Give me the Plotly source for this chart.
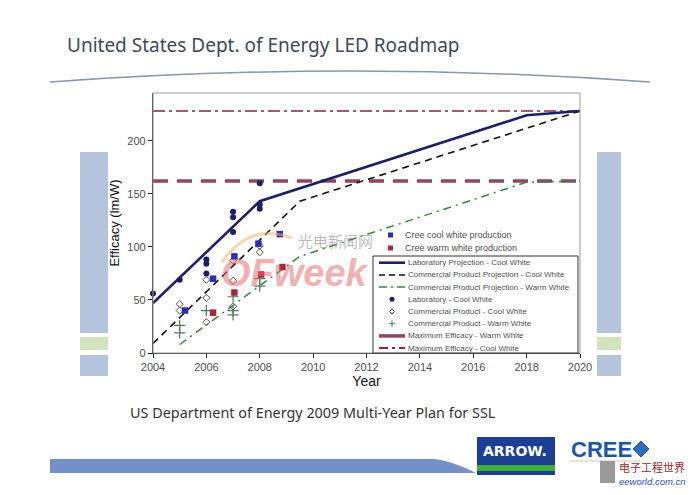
import plotly.graph_objects as go

# ---- data (lm/W) ----
max_years = [2004, 2020]
max_warm_vals = [162, 162]
max_cool_vals = [228, 228]

lab_proj_years = [2004, 2008, 2018, 2020]
lab_proj_vals = [47, 143, 224, 228]

comm_cool_proj_years = [2004, 2009.5, 2020]
comm_cool_proj_vals = [9, 143, 228]

comm_warm_proj_years = [2005, 2009.5, 2018, 2020]
comm_warm_proj_vals = [8, 91, 161, 162]

lab_cool_years = [2004, 2005, 2006, 2006, 2006, 2007, 2007, 2007, 2008, 2008, 2008]
lab_cool_vals = [56, 69, 88, 84, 75, 133, 128, 114, 160, 140, 136]

comm_cool_years = [2005, 2005, 2006, 2006, 2006, 2007, 2007, 2007, 2008, 2008]
comm_cool_vals = [46, 40, 69, 52, 29, 87, 68, 44, 101, 95]

comm_warm_years = [2005, 2005, 2006, 2007, 2007, 2007, 2008, 2008]
comm_warm_vals = [26, 19, 40, 53, 40, 36, 70, 63]

cree_cool_years = [2005.2, 2006.25, 2007.05, 2007.95, 2008.75]
cree_cool_vals = [40, 70, 91, 103, 112]

cree_warm_years = [2006.25, 2007.05, 2008.05, 2008.85]
cree_warm_vals = [38, 57, 74, 81]

x_ticks = list(range(2004, 2021, 2))
y_ticks = [0, 50, 100, 150, 200]

# ---- page geometry (pixels of the 698x495 page) ----
OFF = 8                      # default body margin of the html page
W, H = 698 - 2 * OFF, 495 - 2 * OFF
PL, PT = 153, 93             # plot area top-left on the page
PW, PH = 427, 260            # plot area size
L, T = PL - OFF, PT - OFF
R, B = W - L - PW, H - T - PH


def px(x):
    return (x - PL) / PW


def py(y):
    return (PT + PH - y) / PH


NAVY = "#1c1f66"
MAROON = "#8e4560"
DKRED = "#8a2436"
GREEN = "#2f8a3a"
TXT = "#505050"
FONT = "Liberation Sans, Arial, sans-serif"

fig = go.Figure()

# horizontal limits
fig.add_trace(go.Scatter(x=max_years, y=max_cool_vals, mode="lines",
                         line=dict(color=DKRED, width=1.4, dash="12px,4px,3px,4px")))
fig.add_trace(go.Scatter(x=max_years, y=max_warm_vals, mode="lines",
                         line=dict(color=MAROON, width=3.5, dash="15px,9px")))
# projections
fig.add_trace(go.Scatter(x=comm_warm_proj_years, y=comm_warm_proj_vals, mode="lines",
                         line=dict(color=GREEN, width=1.5, dash="8px,5px,2px,5px")))
fig.add_trace(go.Scatter(x=comm_cool_proj_years, y=comm_cool_proj_vals, mode="lines",
                         line=dict(color="#111111", width=1.6, dash="7px,5px")))
fig.add_trace(go.Scatter(x=lab_proj_years, y=lab_proj_vals, mode="lines",
                         line=dict(color=NAVY, width=2.6)))
# measured points
fig.add_trace(go.Scatter(x=comm_warm_years, y=comm_warm_vals, mode="markers",
                         marker=dict(symbol="cross-thin", size=8, color="#4f7a58",
                                     line=dict(color="#4f7a58", width=1.2))))
fig.add_trace(go.Scatter(x=comm_cool_years, y=comm_cool_vals, mode="markers",
                         marker=dict(symbol="diamond-open", size=5.5, color="#555555",
                                     line=dict(width=1))))
fig.add_trace(go.Scatter(x=lab_cool_years, y=lab_cool_vals, mode="markers",
                         marker=dict(symbol="circle", size=6, color=NAVY)))
fig.add_trace(go.Scatter(x=cree_cool_years, y=cree_cool_vals, mode="markers",
                         marker=dict(symbol="square", size=6.5, color="#2b2fa8")))
fig.add_trace(go.Scatter(x=cree_warm_years, y=cree_warm_vals, mode="markers",
                         marker=dict(symbol="square", size=6.5, color="#a3263a")))
fig.update_traces(cliponaxis=False, showlegend=False)

shapes = []
annos = []

# side panels behind the slide
for x0, x1 in [(80, 108), (597, 621)]:
    shapes += [
        dict(type="rect", x0=px(x0), x1=px(x1), y0=py(333), y1=py(152),
             fillcolor="#b5c4dd", line_width=0, layer="below"),
        dict(type="rect", x0=px(x0), x1=px(x1), y0=py(350), y1=py(337),
             fillcolor="#d3e3bd", line_width=0, layer="below"),
        dict(type="rect", x0=px(x0), x1=px(x1), y0=py(376), y1=py(355),
             fillcolor="#b5c4dd", line_width=0, layer="below"),
    ]

# header arc
shapes.append(dict(type="path",
                   path=f"M {px(50)} {py(82)} Q {px(350)} {py(60)} {px(650)} {py(82)}",
                   line=dict(color="#8797ad", width=1.5)))
# frame top/right in light grey
shapes.append(dict(type="rect", x0=0, x1=1, y0=0, y1=1,
                   line=dict(color="#9a9a9a", width=1)))

# bottom bar
shapes.append(dict(type="path",
                   path=(f"M {px(50)} {py(459)} L {px(433)} {py(459)} "
                         f"Q {px(450)} {py(460)} {px(476)} {py(473)} L {px(50)} {py(473)} Z"),
                   fillcolor="#7390c8", line_width=0))
# Arrow logo
shapes.append(dict(type="rect", x0=px(477), x1=px(555), y0=py(475), y1=py(437),
                   fillcolor="#1d3f93", line_width=0))
shapes.append(dict(type="rect", x0=px(477), x1=px(555), y0=py(471), y1=py(465),
                   fillcolor="#3fae3a", line_width=0))
annos.append(dict(x=px(515), y=py(451), text="<b>ARROW.</b>",
                  font=dict(family="DejaVu Sans", size=14, color="white")))
# Cree logo
annos.append(dict(x=px(569), y=py(449), xanchor="left", text="<b>CREE</b>",
                  font=dict(family="Liberation Sans", size=22, color="#1c56a8")))
shapes.append(dict(type="path",
                   path=(f"M {px(633)} {py(449)} L {px(641)} {py(441)} L {px(649)} {py(449)} "
                         f"L {px(641)} {py(457)} Z"),
                   fillcolor="#2f6cb8", line=dict(color="#1c56a8", width=1)))
shapes.append(dict(type="line", x0=px(570), x1=px(640), y0=py(461), y1=py(461),
                   line=dict(color="#c8c8c8", width=1)))
# eeworld mark
shapes.append(dict(type="rect", x0=px(600), x1=px(615), y0=py(483), y1=py(461),
                   fillcolor="#9a9a9a", line_width=0))
annos.append(dict(x=px(617), y=py(467), xanchor="left", text="电子工程世界",
                  font=dict(family="Noto Sans CJK SC", size=11, color="#9b2b2b")))
annos.append(dict(x=px(617), y=py(481), xanchor="left", text="<i>eeworld.com.cn</i>",
                  font=dict(family=FONT, size=9.5, color="#2b55a8")))

# watermark
shapes.append(dict(type="path",
                   path=f"M {px(222)} {py(262)} Q {px(250)} {py(222)} {px(292)} {py(238)}",
                   line=dict(color="rgba(240,180,110,0.55)", width=3)))
annos.append(dict(x=px(295), y=py(273), text="<b><i>OFweek</i></b>",
                  font=dict(family="Liberation Sans", size=38, color="rgba(232,110,110,0.55)")))
annos.append(dict(x=px(335), y=py(240), text="光电新闻网",
                  font=dict(family="Noto Sans CJK SC", size=15, color="rgba(140,140,140,0.6)")))

# titles
annos.append(dict(x=px(65), y=py(45), xanchor="left",
                  text="United States Dept. of Energy LED Roadmap",
                  font=dict(family="Noto Sans", size=19, color="#3c4a5c")))
annos.append(dict(x=px(128), y=py(412), xanchor="left",
                  text="US Department of Energy 2009 Multi-Year Plan for SSL",
                  font=dict(family="Noto Sans", size=14.4, color="#333333")))

# ---- legend drawn by hand (plotly rows are too tall for this box) ----
shapes.append(dict(type="rect", x0=px(373), x1=px(578), y0=py(353), y1=py(256),
                   fillcolor="white", line=dict(color="#333333", width=1)))

upper = [("Cree cool white production", "#2b2fa8"),
         ("Cree warm white production", "#a3263a")]
for i, (label, col) in enumerate(upper):
    yc = 235 + i * 13
    shapes.append(dict(type="rect", x0=px(388), x1=px(393), y0=py(yc + 2.5), y1=py(yc - 2.5),
                       fillcolor=col, line_width=0))
    annos.append(dict(x=px(403), y=py(yc), xanchor="left", text=label,
                      font=dict(family=FONT, size=9, color=TXT)))

rows = [
    ("Laboratory Projection - Cool White", "line", dict(color=NAVY, width=2.6)),
    ("Commercial Product Projection - Cool White", "line",
     dict(color="#111111", width=1.5, dash="6px,4px")),
    ("Commercial Product Projection - Warm White", "line",
     dict(color=GREEN, width=1.5, dash="8px,4px,2px,4px")),
    ("Laboratory - Cool White", "dot", NAVY),
    ("Commercial Product - Cool White", "diamond", "#555555"),
    ("Commercial Product - Warm White", "plus", "#4f7a58"),
    ("Maximum Efficacy - Warm White", "line", dict(color=MAROON, width=3.5)),
    ("Maximum Efficacy - Cool White", "line", dict(color=DKRED, width=2, dash="9px,4px,3px,4px")),
]
for i, (label, kind, sty) in enumerate(rows):
    yc = 262.7 + i * 12.2
    xc = 392
    if kind == "line":
        shapes.append(dict(type="line", x0=px(379), x1=px(405), y0=py(yc), y1=py(yc), line=sty))
    elif kind == "dot":
        shapes.append(dict(type="circle", x0=px(xc - 2.5), x1=px(xc + 2.5), y0=py(yc + 2.5),
                           y1=py(yc - 2.5), fillcolor=sty, line_width=0))
    elif kind == "diamond":
        shapes.append(dict(type="path",
                           path=(f"M {px(xc - 2.5)} {py(yc)} L {px(xc)} {py(yc - 2.5)} "
                                 f"L {px(xc + 2.5)} {py(yc)} L {px(xc)} {py(yc + 2.5)} Z"),
                           line=dict(color=sty, width=1)))
    else:
        shapes.append(dict(type="line", x0=px(xc), x1=px(xc), y0=py(yc + 3.5), y1=py(yc - 3.5),
                           line=dict(color=sty, width=1)))
        shapes.append(dict(type="line", x0=px(xc - 3), x1=px(xc + 3), y0=py(yc), y1=py(yc),
                           line=dict(color=sty, width=1)))
    annos.append(dict(x=px(406), y=py(yc), xanchor="left", text=label,
                      font=dict(family=FONT, size=8, color=TXT)))

for s in shapes:
    s.setdefault("xref", "paper")
    s.setdefault("yref", "paper")
for a in annos:
    a.setdefault("xref", "paper")
    a.setdefault("yref", "paper")
    a.setdefault("xanchor", "center")
    a.setdefault("yanchor", "middle")
    a.setdefault("showarrow", False)

fig.update_layout(
    width=W, height=H,
    margin=dict(l=L, r=R, t=T, b=B, pad=0),
    paper_bgcolor="white", plot_bgcolor="white",
    showlegend=False,
    font=dict(family=FONT, size=11, color=TXT),
    shapes=shapes, annotations=annos,
    xaxis=dict(range=[2004, 2020], tickvals=x_ticks, ticks="outside", ticklen=4,
               tickcolor="#222", showgrid=False, zeroline=False, showline=True,
               linecolor="#222", linewidth=1.2,
               title=dict(text="Year", standoff=2, font=dict(size=14, color="#111"))),
    yaxis=dict(range=[0, 245], tickvals=y_ticks, ticks="outside", ticklen=4,
               tickcolor="#222", showgrid=False, zeroline=False, showline=True,
               linecolor="#222", linewidth=1.2,
               title=dict(text="Efficacy (lm/W)", standoff=4, font=dict(size=13, color="#111"))),
)

fig.write_html("out.html")
